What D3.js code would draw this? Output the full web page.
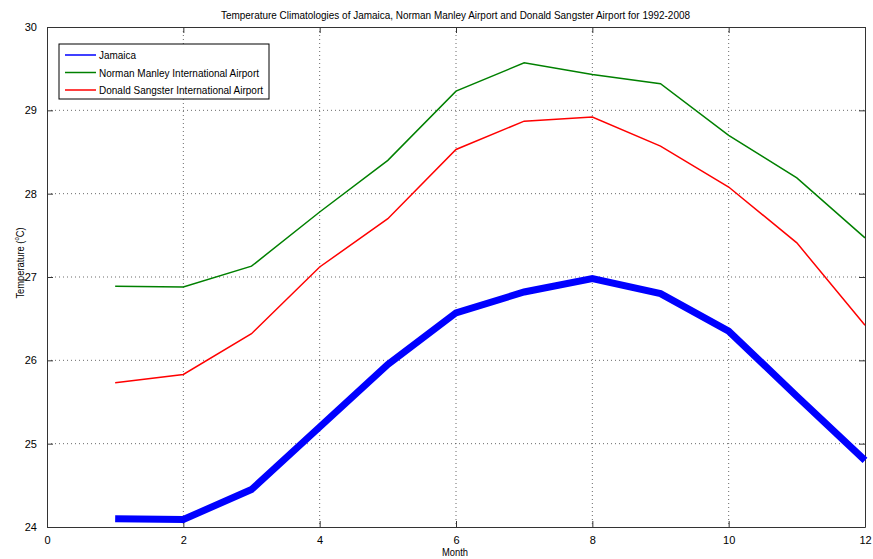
<!DOCTYPE html>
<html>
<head>
<meta charset="utf-8">
<script src="https://cdn.jsdelivr.net/npm/d3@7"></script>
<style>
  body { margin: 0; background: #fff; }
  text { font-family: "Liberation Sans", Arial, sans-serif; fill: #000; }
</style>
</head>
<body>
<div id="chart"></div>
<script>
// monthly climatologies 1992-2008
var months = [1, 2, 3, 4, 5, 6, 7, 8, 9, 10, 11, 12];
var jamaica = [24.10, 24.09, 24.45, 25.20, 25.95, 26.57, 26.82, 26.98, 26.80, 26.35, 25.57, 24.80];
var normanManley = [26.89, 26.88, 27.13, 27.78, 28.40, 29.23, 29.57, 29.43, 29.32, 28.70, 28.19, 27.47];
var donaldSangster = [25.73, 25.83, 26.32, 27.12, 27.70, 28.53, 28.87, 28.92, 28.57, 28.08, 27.41, 26.42];
var xTicks = [0, 2, 4, 6, 8, 10, 12];
var yTicks = [24, 25, 26, 27, 28, 29, 30];

var series = [
    { name: "Jamaica", values: jamaica, color: "#0000ff", width: 7, len: 37 },
    { name: "Norman Manley International Airport", values: normanManley, color: "#008000", width: 1.5, len: 160 },
    { name: "Donald Sangster International Airport", values: donaldSangster, color: "#ff0000", width: 1.5, len: 164 }
];

var chart_width = 873;
var chart_height = 559;
var plotLeft = 47, plotRight = 865, plotTop = 27, plotBottom = 527;

var svg = d3.select('#chart')
    .append('svg')
    .attr('width', chart_width)
    .attr('height', chart_height);

var x = d3.scaleLinear().domain([0, 12]).range([plotLeft, plotRight]);
var y = d3.scaleLinear().domain([24, 30]).range([plotBottom, plotTop]);

// grid
svg.append('g')
    .selectAll('line')
    .data(xTicks.slice(1, -1))
    .enter().append('line')
    .attr('x1', d => x(d)).attr('x2', d => x(d))
    .attr('y1', plotTop).attr('y2', plotBottom)
    .attr('stroke', '#444')
    .attr('stroke-width', 0.8)
    .attr('stroke-dasharray', '1,3');

svg.append('g')
    .selectAll('line')
    .data(yTicks.slice(1, -1))
    .enter().append('line')
    .attr('x1', plotLeft).attr('x2', plotRight)
    .attr('y1', d => y(d)).attr('y2', d => y(d))
    .attr('stroke', '#444')
    .attr('stroke-width', 0.8)
    .attr('stroke-dasharray', '1,3');

// axes (MATLAB box with inward ticks)
var fmt = d3.format('d');
svg.append('g')
    .attr('transform', 'translate(0,' + plotBottom + ')')
    .call(d3.axisBottom(x).tickValues(xTicks).tickFormat(fmt).tickSizeInner(-6).tickSizeOuter(0).tickPadding(9));
svg.append('g')
    .attr('transform', 'translate(0,' + plotTop + ')')
    .call(d3.axisTop(x).tickValues(xTicks).tickFormat('').tickSizeInner(-6).tickSizeOuter(0));
svg.append('g')
    .attr('transform', 'translate(' + plotLeft + ',0)')
    .call(d3.axisLeft(y).tickValues(yTicks).tickFormat(fmt).tickSizeInner(-6).tickSizeOuter(0).tickPadding(10));
svg.append('g')
    .attr('transform', 'translate(' + plotRight + ',0)')
    .call(d3.axisRight(y).tickValues(yTicks).tickFormat('').tickSizeInner(-6).tickSizeOuter(0));

svg.selectAll('.domain, .tick line').attr('stroke', '#333');
svg.selectAll('.tick text')
    .attr('font-size', 11)
    .attr('font-family', '"Liberation Sans", Arial, sans-serif');

// lines
var line = d3.line()
    .x((d, i) => x(months[i]))
    .y(d => y(d));

svg.selectAll('.series')
    .data(series)
    .enter().append('path')
    .attr('class', 'series')
    .attr('d', d => line(d.values))
    .attr('fill', 'none')
    .attr('stroke', d => d.color)
    .attr('stroke-width', d => d.width)
    .attr('stroke-linejoin', 'miter');

// legend
var legend = svg.append('g');
legend.append('rect')
    .attr('x', 59).attr('y', 44)
    .attr('width', 210).attr('height', 55)
    .attr('fill', '#fff')
    .attr('stroke', '#000')
    .attr('stroke-width', 1);

var items = legend.selectAll('.item')
    .data(series)
    .enter().append('g')
    .attr('transform', (d, i) => 'translate(0,' + (55 + i * 17.5) + ')');
items.append('line')
    .attr('x1', 65).attr('x2', 96)
    .attr('stroke', d => d.color)
    .attr('stroke-width', 1.5);
items.append('text')
    .attr('x', 99).attr('y', 4)
    .attr('font-size', 11)
    .attr('textLength', d => d.len)
    .attr('lengthAdjust', 'spacingAndGlyphs')
    .text(d => d.name);

// labels
svg.append('text')
    .text('Temperature Climatologies of Jamaica, Norman Manley Airport and Donald Sangster Airport for 1992-2008')
    .attr('x', 221).attr('y', 19)
    .attr('font-size', 11)
    .attr('textLength', 469)
    .attr('lengthAdjust', 'spacingAndGlyphs');

svg.append('text')
    .text('Month')
    .attr('x', 442).attr('y', 556)
    .attr('font-size', 11)
    .attr('textLength', 26)
    .attr('lengthAdjust', 'spacingAndGlyphs');

var ylab = svg.append('text')
    .attr('transform', 'translate(24,263) rotate(-90) scale(0.85,1)')
    .attr('text-anchor', 'middle')
    .attr('font-size', 11);
ylab.append('tspan').text('Temperature (');
ylab.append('tspan').text('o').attr('font-size', 7).attr('dy', -5);
ylab.append('tspan').text('C)').attr('dy', 5);
</script>
</body>
</html>
